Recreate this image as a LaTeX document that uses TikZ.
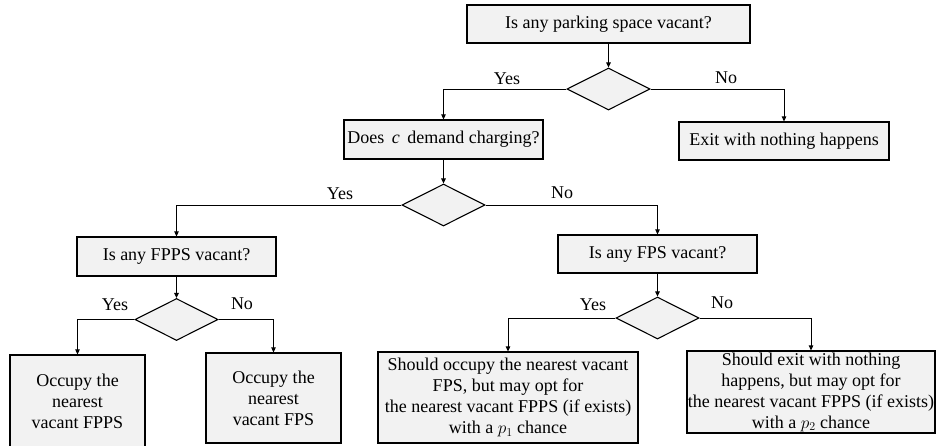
\documentclass[tikz,border=0pt]{standalone}
\usepackage{fontspec}
\setmainfont{Liberation Serif}
\usetikzlibrary{shapes.geometric,arrows.meta}
\definecolor{boxfill}{HTML}{F2F2F2}
\begin{document}
\begin{tikzpicture}[x=1pt,y=-1pt,
  font=\fontsize{18}{21}\selectfont,
  box/.style={draw=black,line width=1.2pt,fill=boxfill,inner sep=0pt,align=center},
  dia/.style={draw=black,line width=1.1pt,fill=boxfill,diamond,inner sep=0pt,minimum width=83pt,minimum height=42pt},
  arr/.style={line width=1pt,-{Triangle[length=5pt,width=4.5pt]}},
  lbl/.style={inner sep=0pt}]
\useasboundingbox (0,0) rectangle (937,445);
% boxes
\node[box,minimum width=283pt,minimum height=38pt] (top) at (608.5,24) {Is any parking space vacant?};
\node[box,minimum width=199pt,minimum height=39pt] (doc) at (443.5,139.5) {Does\, \textit{c}\, demand charging?};
\node[box,minimum width=210pt,minimum height=38pt] (exit) at (784,141) {Exit with nothing happens};
\node[box,minimum width=199pt,minimum height=39pt] (fpps) at (176.5,256.5) {Is any FPPS vacant?};
\node[box,minimum width=199pt,minimum height=38pt] (fps) at (657.5,254) {Is any FPS vacant?};
\node[box,minimum width=135pt,minimum height=92pt] (occ1) at (77.5,401) {Occupy the\\nearest\\vacant FPPS};
\node[box,minimum width=135pt,minimum height=90pt] (occ2) at (273.5,398) {Occupy the\\nearest\\vacant FPS};
\node[box,minimum width=260pt,minimum height=91pt] (occ3) at (508,397.5) {Should occupy the nearest vacant\\FPS, but may opt for\\the nearest vacant FPPS (if exists)\\with a $p_1$ chance};
\node[box,minimum width=248pt,minimum height=82pt] (occ4) at (811,392) {Should exit with nothing\\happens, but may opt for\\the nearest vacant FPPS (if exists)\\with a $p_2$ chance};
% diamonds
\node[dia] (d1) at (608.5,89) {};
\node[dia] (d2) at (443.5,205) {};
\node[dia] (d3) at (176.5,319.5) {};
\node[dia] (d4) at (657.5,318) {};
% connectors
\draw[arr] (top.south) -- (d1.north);
\draw[arr] (d1.west) -| (doc.north);
\draw[arr] (d1.east) -| (exit.north);
\draw[arr] (doc.south) -- (d2.north);
\draw[arr] (d2.west) -| (fpps.north);
\draw[arr] (d2.east) -| (fps.north);
\draw[arr] (fpps.south) -- (d3.north);
\draw[arr] (d3.west) -| (occ1.north);
\draw[arr] (d3.east) -| (occ2.north);
\draw[arr] (fps.south) -- (d4.north);
\draw[arr] (d4.west) -| (occ3.north);
\draw[arr] (d4.east) -| (occ4.north);
% labels
\node[lbl] (y1) at (507,79) {Yes};
\node[lbl] (n1) at (726,78) {No};
\node[lbl] (y2) at (340,194) {Yes};
\node[lbl] (n2) at (562,193) {No};
\node[lbl] (y3) at (115,305) {Yes};
\node[lbl] (n3) at (242,304) {No};
\node[lbl] (y4) at (593,305) {Yes};
\node[lbl] (n4) at (722,303) {No};
\end{tikzpicture}
\end{document}
